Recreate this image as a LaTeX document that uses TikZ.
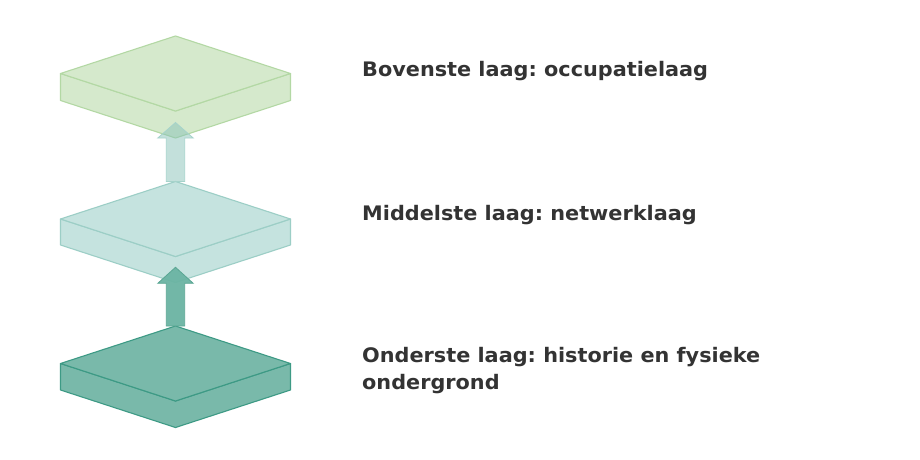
\documentclass[tikz,border=0pt]{standalone}
\usepackage{fontspec}
\newfontfamily\lblfont[FakeStretch=1.04]{DejaVu Sans Bold}
\definecolor{topfill}{HTML}{D5E9CC}
\definecolor{topline}{HTML}{B3D8A4}
\definecolor{midfill}{HTML}{C5E3DF}
\definecolor{midline}{HTML}{9CCEC6}
\definecolor{botfill}{HTML}{79B9AA}
\definecolor{botline}{HTML}{3D9A85}
\definecolor{uparrfill}{HTML}{88C2B9}
\definecolor{uparrline}{HTML}{A6D3CB}
\definecolor{loarrfill}{HTML}{6BB4A3}
\definecolor{loarrline}{HTML}{5AA693}
\definecolor{txt}{HTML}{333333}
\tikzset{
  lbl/.style={font=\lblfont\fontsize{20}{27}\selectfont\frenchspacing, text=txt, inner sep=0pt, anchor=base west},
  slabface/.style={line join=round, line width=1.1pt},
}
% name, top y, thickness, fill, line
\newcommand\slabdraw[5]{%
  \coordinate (#1T) at (175.5,#2);
  \coordinate (#1L) at (60.5,#2+37.5);
  \coordinate (#1R) at (290.5,#2+37.5);
  \coordinate (#1F) at (175.5,#2+75);
  \coordinate (#1LB) at (60.5,#2+37.5+#3);
  \coordinate (#1RB) at (290.5,#2+37.5+#3);
  \coordinate (#1FB) at (175.5,#2+75+#3);
  \draw[slabface, fill=#4, draw=#5] (#1L) -- (#1F) -- (#1R) -- (#1RB) -- (#1FB) -- (#1LB) -- cycle;
  \draw[slabface, fill=#4, draw=#5] (#1T) -- (#1R) -- (#1F) -- (#1L) -- cycle;
}
% from coordinate (base), head base offset, tip offset, style
\newcommand\blockarrow[4]{%
  \path (#1) coordinate (ab);
  \draw[line join=miter, line width=0.8pt, #4]
    ($(ab)+(-9.2,0)$) -- ($(ab)+(-9.2,-#2)$) -- ($(ab)+(-17.7,-#2)$) --
    ($(ab)+(0,-#3)$) -- ($(ab)+(17.7,-#2)$) -- ($(ab)+(9.2,-#2)$) -- ($(ab)+(9.2,0)$) -- cycle;
}
\usetikzlibrary{calc}
\begin{document}
\begin{tikzpicture}[x=1pt,y=-1pt]
\useasboundingbox (0,0) rectangle (920,460);
\fill[white] (0,0) rectangle (920,460);
\slabdraw{bot}{326}{26.5}{botfill}{botline}
\slabdraw{mid}{181.5}{26}{midfill}{midline}
\slabdraw{top}{36}{27}{topfill}{topline}
\blockarrow{botT}{42.7}{58.7}{fill=loarrfill, fill opacity=0.95, draw=loarrline}
\blockarrow{midT}{43.5}{59}{fill=uparrfill, fill opacity=0.5, draw=uparrline}
\node[lbl] (toptext) at (362,77) {Bovenste laag: occupatielaag};
\node[lbl] (midtext) at (362,220) {Middelste laag: netwerklaag};
\node[lbl] (bottext) at (362,362) {Onderste laag: historie en fysieke};
\node[lbl] (bottext2) at (362,389) {ondergrond};
\end{tikzpicture}
\end{document}
